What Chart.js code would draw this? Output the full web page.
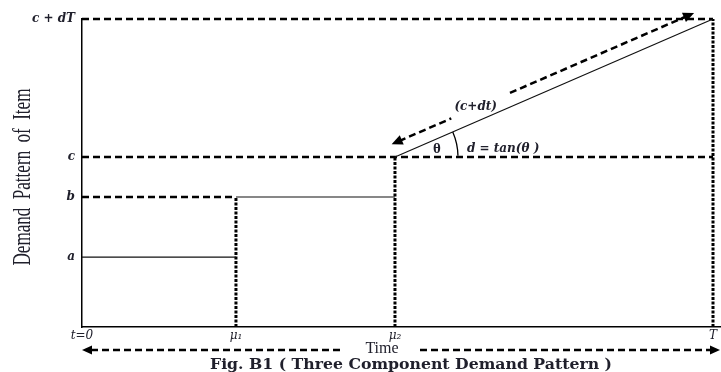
<!DOCTYPE html>
<html>
<head>
<meta charset="utf-8">
<script src="https://cdn.jsdelivr.net/npm/chart.js@4/dist/chart.umd.min.js"></script>
<style>
  html, body { margin: 0; padding: 0; background: #fff; }
  canvas { display: block; }
</style>
</head>
<body>
<canvas id="demand" width="721" height="372"></canvas>
<script>
// Time breakpoints t = 0, μ1, μ2, T (on a 0..10 time scale)
const timePoints = [0, 2.44, 4.96, 10];
const timeLabels = ['t=0', 'μ₁', 'μ₂', 'T'];
// Demand levels a, b, c and the end-of-cycle demand c + dT
const demandLevels = [2.27, 4.22, 5.52, 10];
const demandLabels = ['a', 'b', 'c', 'c + dT'];

const [t0, mu1, mu2, T] = timePoints;
const [a, b, c, cdT] = demandLevels;

const INK = '#20202c';
const SERIF = '"Liberation Serif", "Times New Roman", serif';
const MATH = '"DejaVu Serif", serif';

function seg(p, q, style) {
  return Object.assign({
    data: [p, q],
    showLine: true,
    pointRadius: 0,
    pointHoverRadius: 0,
    clip: false,
    fill: false,
    borderColor: '#000',
    tension: 0
  }, style);
}
const solid = { borderWidth: 1.2, borderColor: '#111' };
const dashed = { borderWidth: 2.5, borderDash: [7, 4] };
const dotted = { borderWidth: 3, borderDash: [3, 1.5] };

const datasets = [
  // demand pattern: constant a, constant b, then linear growth from c
  seg({ x: t0, y: a }, { x: mu1, y: a }, solid),
  seg({ x: mu1, y: b }, { x: mu2, y: b }, solid),
  seg({ x: mu2, y: c }, { x: T, y: cdT }, solid),
  // level guides
  seg({ x: t0, y: b }, { x: mu1, y: b }, dashed),
  seg({ x: t0, y: c }, { x: T, y: c }, dashed),
  seg({ x: t0, y: cdT }, { x: T, y: cdT }, dashed),
  // breakpoint guides
  seg({ x: mu1, y: 0 }, { x: mu1, y: b }, dotted),
  seg({ x: mu2, y: 0 }, { x: mu2, y: c }, dotted),
  seg({ x: T, y: 0 }, { x: T, y: cdT }, dotted)
];

function arrowHead(ctx, tip, dir, len, half) {
  const nx = -dir.y, ny = dir.x;
  ctx.beginPath();
  ctx.moveTo(tip.x, tip.y);
  ctx.lineTo(tip.x + dir.x * len + nx * half, tip.y + dir.y * len + ny * half);
  ctx.lineTo(tip.x + dir.x * len - nx * half, tip.y + dir.y * len - ny * half);
  ctx.closePath();
  ctx.fill();
}

function dashedLine(ctx, p, q) {
  ctx.beginPath();
  ctx.moveTo(p.x, p.y);
  ctx.lineTo(q.x, q.y);
  ctx.stroke();
}

const annotations = {
  id: 'annotations',
  afterDraw(chart) {
    const { ctx, scales: { x, y }, chartArea } = chart;
    const p0 = { x: x.getPixelForValue(mu2), y: y.getPixelForValue(c) };
    const p1 = { x: x.getPixelForValue(T), y: y.getPixelForValue(cdT) };
    const dx = p1.x - p0.x, dy = p1.y - p0.y;
    const L = Math.hypot(dx, dy);
    const u = { x: dx / L, y: dy / L };
    const n = { x: u.y, y: -u.x }; // normal pointing above the ramp
    const off = 13;
    const at = (s) => ({ x: p0.x + u.x * s + n.x * off, y: p0.y + u.y * s + n.y * off });

    ctx.save();
    ctx.strokeStyle = '#000';
    ctx.fillStyle = '#000';
    ctx.lineWidth = 2.5;
    ctx.setLineDash([7, 4]);
    // parallel (c + dt) arrow, broken around its label
    const sStart = 2, sEnd = L - 15;
    dashedLine(ctx, at(sStart + 8), at(67));
    dashedLine(ctx, at(131), at(sEnd - 8));
    ctx.setLineDash([]);
    arrowHead(ctx, at(sStart), u, 11, 5);
    arrowHead(ctx, at(sEnd), { x: -u.x, y: -u.y }, 11, 5);

    // angle arc at the start of the ramp
    ctx.lineWidth = 1.3;
    ctx.beginPath();
    ctx.arc(p0.x, p0.y, 63, Math.atan2(dy, dx), -0.02);
    ctx.stroke();

    ctx.fillStyle = INK;
    ctx.textBaseline = 'middle';
    ctx.textAlign = 'center';
    ctx.font = 'bold italic 12px ' + MATH;
    const lp = at(98);
    ctx.fillText('(c+dt)', lp.x - 4, lp.y + 1);
    ctx.font = 'bold 15px ' + SERIF;
    ctx.fillText('θ', p0.x + 42, p0.y - 8);
    ctx.textAlign = 'left';
    ctx.font = 'bold italic 12px ' + MATH;
    ctx.fillText('d = tan(θ )', p0.x + 72, p0.y - 8);

    // time axis arrow with its title
    const ty = 350;
    const left = chartArea.left, right = chart.width - 1;
    const tx = 382;
    ctx.strokeStyle = '#000';
    ctx.fillStyle = '#000';
    ctx.lineWidth = 2.5;
    ctx.setLineDash([7, 4]);
    dashedLine(ctx, { x: left + 9, y: ty }, { x: tx - 38, y: ty });
    dashedLine(ctx, { x: tx + 38, y: ty }, { x: right - 8, y: ty });
    ctx.setLineDash([]);
    arrowHead(ctx, { x: left, y: ty }, { x: 1, y: 0 }, 10, 4.5);
    arrowHead(ctx, { x: right, y: ty }, { x: -1, y: 0 }, 10, 4.5);
    ctx.fillStyle = INK;
    ctx.textAlign = 'center';
    ctx.font = '16px ' + SERIF;
    ctx.fillText('Time', tx, ty - 1);

    // caption
    ctx.font = 'bold 14px ' + MATH;
    const cap = 'Fig. B1 ( Three Component Demand Pattern )';
    const cw = ctx.measureText(cap).width;
    ctx.save();
    ctx.translate(411, 365);
    ctx.scale(Math.min(1.15, 402 / cw), 1);
    ctx.fillText(cap, 0, 0);
    ctx.restore();

    // vertical axis title, tall narrow serif
    ctx.save();
    ctx.translate(23, 177);
    ctx.rotate(-Math.PI / 2);
    ctx.font = '25px ' + SERIF;
    ctx.wordSpacing = '6px';
    const title = 'Demand Pattern of Item';
    const w = ctx.measureText(title).width;
    ctx.scale(177 / w, 1);
    ctx.fillText(title, 0, 0);
    ctx.restore();
    ctx.restore();
  }
};

new Chart(document.getElementById('demand'), {
  type: 'scatter',
  data: { datasets },
  options: {
    responsive: false,
    animation: false,
    devicePixelRatio: 1,
    layout: { padding: { top: 19, right: 1, left: 0, bottom: 0 } },
    plugins: { legend: { display: false }, tooltip: { enabled: false } },
    scales: {
      x: {
        type: 'linear',
        min: t0,
        max: T * 638 / 631,
        afterBuildTicks: (s) => { s.ticks = timePoints.map((v) => ({ value: v })); },
        afterFit: (s) => { s.height = 45; },
        grid: { display: false, drawTicks: false },
        border: { display: true, color: '#000', width: 1.5 },
        ticks: {
          autoSkip: false,
          maxRotation: 0,
          padding: 2,
          color: INK,
          font: { family: MATH, size: 12, style: 'italic' },
          callback: (v, i) => timeLabels[i]
        }
      },
      y: {
        type: 'linear',
        min: 0,
        max: cdT,
        afterBuildTicks: (s) => { s.ticks = demandLevels.map((v) => ({ value: v })); },
        afterFit: (s) => { s.width = 82; },
        grid: { display: false, drawTicks: false },
        border: { display: true, color: '#000', width: 1.5 },
        ticks: {
          autoSkip: false,
          padding: 7,
          color: INK,
          font: { family: MATH, size: 12, style: 'italic', weight: 'bold' },
          callback: (v, i) => demandLabels[i]
        }
      }
    }
  },
  plugins: [annotations]
});
</script>
</body>
</html>
